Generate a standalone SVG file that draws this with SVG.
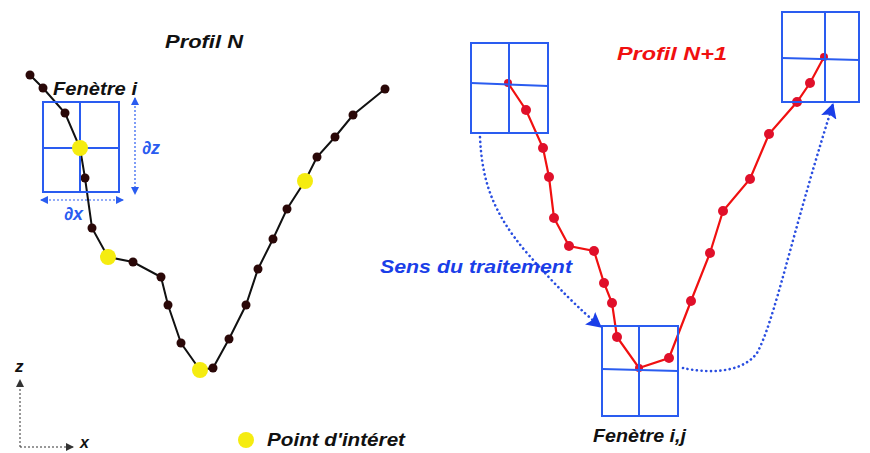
<svg xmlns="http://www.w3.org/2000/svg" width="870" height="453" viewBox="0 0 870 453">
<style>
.hand{font-family:"Liberation Sans",Arial,sans-serif;font-weight:bold;font-style:italic}
.win{fill:none;stroke:#2a5cf0;stroke-width:2}
.bk{fill:none;stroke:#111;stroke-width:2}
.rd{fill:none;stroke:#f01010;stroke-width:2.2}
.bd{fill:#2a0808}
.yd{fill:#f5ec10}
.rdd{fill:#e0102a}
.dot{fill:none;stroke:#2a4ee0;stroke-width:2.6;stroke-dasharray:0.1 4.6;stroke-linecap:round}
.thin{fill:none;stroke:#2a5cf0;stroke-width:1.2;stroke-dasharray:2 2}
.ax{fill:none;stroke:#333;stroke-width:1;stroke-dasharray:2 2}
</style>
<defs>
<marker id="ah" markerWidth="8" markerHeight="8" refX="7" refY="4" orient="auto" markerUnits="userSpaceOnUse"><path d="M0,0 L8,4 L0,8 z" fill="#333"/></marker>
<marker id="bh" markerWidth="8" markerHeight="8" refX="7" refY="4" orient="auto-start-reverse" markerUnits="userSpaceOnUse"><path d="M0,0 L8,4 L0,8 z" fill="#2a5cf0"/></marker>
<marker id="big" markerWidth="16" markerHeight="16" refX="14" refY="8" orient="auto" markerUnits="userSpaceOnUse"><path d="M0,0 L15,8 L0,16 L3,8 z" fill="#1a3ee8"/></marker>
</defs>
<rect width="870" height="453" fill="#fff"/>

<g id="profil-n">
<text class="hand" x="165" y="48" font-size="19" textLength="78" lengthAdjust="spacingAndGlyphs" fill="#111">Profil N</text>
<polyline class="bk" points="30,75 43,88 65,113 80,148 85,178 92,228 108,257 133,262 161,277 168,305 181,343 200,370 213,368 229,339 246,305 258,269 273,239 287,209 305,181 317,157 335,137 353,115 385,89"/>
<g>
<circle class="bd" cx="30" cy="75" r="4.5"/><circle class="bd" cx="43" cy="88" r="4.5"/><circle class="bd" cx="65" cy="113" r="4.5"/>
<circle class="bd" cx="85" cy="178" r="4.5"/><circle class="bd" cx="92" cy="228" r="4.5"/><circle class="bd" cx="133" cy="262" r="4.5"/>
<circle class="bd" cx="161" cy="277" r="4.5"/><circle class="bd" cx="168" cy="305" r="4.5"/><circle class="bd" cx="181" cy="343" r="4.5"/>
<circle class="bd" cx="213" cy="368" r="4.5"/><circle class="bd" cx="229" cy="339" r="4.5"/><circle class="bd" cx="246" cy="305" r="4.5"/>
<circle class="bd" cx="258" cy="269" r="4.5"/><circle class="bd" cx="273" cy="239" r="4.5"/><circle class="bd" cx="287" cy="209" r="4.5"/>
<circle class="bd" cx="317" cy="157" r="4.5"/><circle class="bd" cx="335" cy="137" r="4.5"/><circle class="bd" cx="353" cy="115" r="4.5"/>
<circle class="bd" cx="385" cy="89" r="4.5"/>
</g>
</g>

<g id="fenetre-i">
<text class="hand" x="53" y="95" font-size="18" textLength="84" lengthAdjust="spacingAndGlyphs" fill="#111">Fenètre i</text>
<rect class="win" x="43" y="102" width="76" height="90"/>
<line class="win" x1="80" y1="102" x2="80" y2="192"/>
<line class="win" x1="43" y1="148" x2="119" y2="148"/>
<line class="thin" x1="135" y1="98" x2="135" y2="194" marker-start="url(#bh)" marker-end="url(#bh)"/>
<line class="thin" x1="41" y1="200" x2="123" y2="200" marker-start="url(#bh)" marker-end="url(#bh)"/>
<text class="hand" x="142" y="154" font-size="18" fill="#2a5cf0" font-weight="normal">∂z</text>
<text class="hand" x="64" y="220" font-size="18" fill="#2a5cf0" font-weight="normal">∂x</text>
</g>

<g id="points-interet">
<circle class="yd" cx="80" cy="148" r="8"/>
<circle class="yd" cx="108" cy="257" r="8"/>
<circle class="yd" cx="200" cy="370" r="8"/>
<circle class="yd" cx="305" cy="181" r="8"/>
</g>

<g id="profil-n1">
<text class="hand" x="617" y="60" font-size="19" textLength="110" lengthAdjust="spacingAndGlyphs" fill="#f01010">Profil N+1</text>
<polyline class="rd" points="508,83 526,110 543,148 549,177 554,218 569,246 594,251 604,283 612,303 617,337 639,368 669,358 691,301 710,253 723,211 750,179 769,134 797,102 810,83 824,57"/>
<g>
<circle class="rdd" cx="508" cy="83" r="4"/><circle class="rdd" cx="526" cy="110" r="5"/><circle class="rdd" cx="543" cy="148" r="5"/>
<circle class="rdd" cx="549" cy="177" r="5"/><circle class="rdd" cx="554" cy="218" r="5"/><circle class="rdd" cx="569" cy="246" r="5"/>
<circle class="rdd" cx="594" cy="251" r="5"/><circle class="rdd" cx="604" cy="283" r="5"/><circle class="rdd" cx="612" cy="303" r="5"/>
<circle class="rdd" cx="617" cy="337" r="5"/><circle class="rdd" cx="639" cy="368" r="4"/><circle class="rdd" cx="669" cy="358" r="5"/>
<circle class="rdd" cx="691" cy="301" r="5"/><circle class="rdd" cx="710" cy="253" r="5"/><circle class="rdd" cx="723" cy="211" r="5"/>
<circle class="rdd" cx="750" cy="179" r="5"/><circle class="rdd" cx="769" cy="134" r="5"/><circle class="rdd" cx="797" cy="102" r="5"/>
<circle class="rdd" cx="810" cy="83" r="5"/><circle class="rdd" cx="824" cy="57" r="4"/>
</g>
</g>

<g id="fenetre-haut-gauche">
<rect class="win" x="471" y="43" width="77" height="90"/>
<line class="win" x1="509" y1="43" x2="509" y2="133"/>
<line class="win" x1="471" y1="83" x2="548" y2="86"/>
</g>
<g id="fenetre-haut-droite">
<rect class="win" x="782" y="12" width="77" height="90"/>
<line class="win" x1="825" y1="12" x2="825" y2="102"/>
<line class="win" x1="782" y1="58" x2="859" y2="60"/>
</g>
<g id="fenetre-ij">
<rect class="win" x="602" y="326" width="76" height="90"/>
<line class="win" x1="639" y1="326" x2="639" y2="416"/>
<line class="win" x1="602" y1="369" x2="678" y2="371"/>
<text class="hand" x="593" y="442" font-size="18" textLength="93" lengthAdjust="spacingAndGlyphs" fill="#111">Fenètre i,j</text>
</g>

<g id="connecteurs">
<path class="dot" d="M480,137 C482,180 492,212 527,253 C555,285 580,310 601,327" marker-end="url(#big)"/>
<path class="dot" d="M683,368 C700,372 740,376 757,353 C775,320 790,240 833,104" marker-end="url(#big)"/>
<line class="ax" x1="20" y1="447" x2="20" y2="380" marker-end="url(#ah)"/>
<line class="ax" x1="20" y1="447" x2="73" y2="447" marker-end="url(#ah)"/>
</g>

<text class="hand" x="380" y="273" font-size="18" textLength="192" lengthAdjust="spacingAndGlyphs" fill="#1a3ee8">Sens du traitement</text>

<g id="axes-labels">
<text class="hand" x="15" y="372" font-size="17" fill="#111" font-style="normal">z</text>
<text class="hand" x="80" y="448" font-size="16" fill="#111" font-style="normal">x</text>
</g>

<g id="legende">
<circle class="yd" cx="246" cy="440" r="8"/>
<text class="hand" x="267" y="446" font-size="18" textLength="138" lengthAdjust="spacingAndGlyphs" fill="#111">Point d'intéret</text>
</g>
</svg>
